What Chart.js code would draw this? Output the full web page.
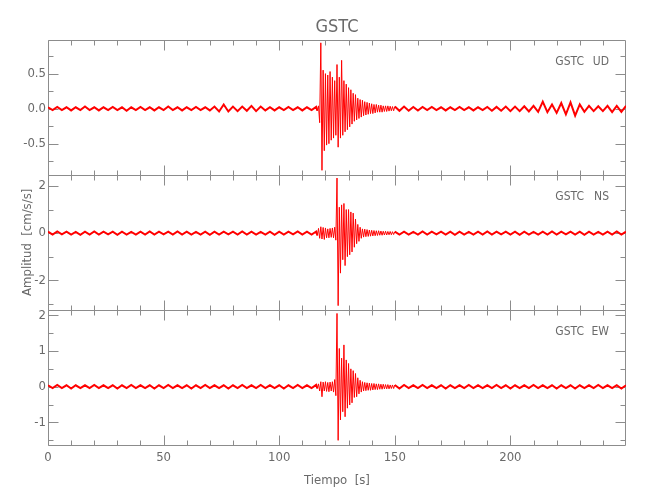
<!DOCTYPE html>
<html>
<head>
<meta charset="utf-8">
<title>GSTC</title>
<script src="https://cdn.jsdelivr.net/npm/chart.js@4.4.1/dist/chart.umd.min.js"></script>
<style>
  body { margin: 0; background: #fff; }
  canvas { display: block; }
</style>
</head>
<body>
<canvas id="myChart" width="650" height="500"></canvas>
<script>
//----- datos -----
const station = 'GSTC';

// tiempo [s]: cada 2 s antes y despues del evento, cada 0.5 s durante el evento
const quietBefore = [0,2,4,6,8,10,12,14,16,18, 20,22,24,26,28,30,32,34,36,38,
  40,42,44,46,48,50,52,54,56,58, 60,62,64,66,68,70,72,74,76,78,
  80,82,84,86,88,90,92,94,96,98, 100,102,104,106,108,110,112,114,116];
const eventTimes = [116.5,117,117.5,118,118.5,119,119.5,120,120.5,121,
  121.5,122,122.5,123,123.5,124,124.5,125,125.5,126,
  126.5,127,127.5,128,128.5,129,129.5,130,130.5,131,
  131.5,132,132.5,133,133.5,134,134.5,135,135.5,136,
  136.5,137,137.5,138,138.5,139,139.5,140,140.5,141,
  141.5,142,142.5,143,143.5,144,144.5,145,145.5,146,
  146.5,147,147.5,148,148.5,149,149.5,150];
const quietAfter = [152,154,156,158,160,162,164,166,168,170,
  172,174,176,178,180,182,184,186,188,190,
  192,194,196,198,200,202,204,206,208,210,
  212,214,216,218,220,222,224,226,228,230,
  232,234,236,238,240,242,244,246,248,250];

// UD [cm/s/s]
const ud = [
  0.02,-0.02,0.025,-0.02,0.02,-0.025,0.02,-0.02,0.03,-0.02,
  0.02,-0.025,0.02,-0.02,0.025,-0.02,0.02,-0.03,0.02,-0.02,
  0.025,-0.02,0.02,-0.025,0.02,-0.02,0.03,-0.02,0.02,-0.025,
  0.02,-0.02,0.025,-0.02,0.02,-0.025,0.03,-0.04,0.06,-0.04,
  0.03,-0.035,0.03,-0.03,0.04,-0.035,0.03,-0.025,0.02,-0.025,
  0.02,-0.02,0.025,-0.02,0.02,-0.025,0.02,-0.02,0.025,
  // evento
  -0.03,0.04,-0.2,0.94,-0.88,0.55,-0.6,0.5,-0.52,0.48,
  -0.5,0.53,-0.45,0.45,-0.42,0.4,-0.38,0.63,-0.55,0.45,
  -0.42,0.69,-0.38,0.4,-0.33,0.35,-0.3,0.3,-0.26,0.27,
  -0.22,0.22,-0.18,0.2,-0.16,0.15,-0.14,0.13,-0.12,0.12,
  -0.1,0.1,-0.09,0.09,-0.08,0.08,-0.07,0.07,-0.07,0.06,
  -0.06,0.06,-0.05,0.05,-0.05,0.05,-0.05,0.04,-0.04,0.04,
  -0.04,0.04,-0.035,0.035,-0.03,0.03,-0.03,0.03,
  // despues
  -0.03,0.03,-0.03,0.025,-0.025,0.025,-0.02,0.025,-0.02,0.02,
  -0.025,0.02,-0.02,0.025,-0.02,0.02,-0.025,0.02,-0.02,0.025,
  -0.03,0.025,-0.03,0.03,-0.035,0.03,-0.035,0.035,-0.04,0.04,
  -0.045,0.1,-0.05,0.06,-0.06,0.08,-0.08,0.09,-0.1,0.06,
  -0.045,0.04,-0.035,0.035,-0.035,0.04,-0.05,0.04,-0.045,0.04
];

// NS [cm/s/s]
const ns = [
  0.06,-0.06,0.07,-0.05,0.06,-0.06,0.05,-0.07,0.06,-0.06,
  0.07,-0.06,0.06,-0.05,0.06,-0.07,0.06,-0.06,0.05,-0.06,
  0.06,-0.06,0.07,-0.06,0.06,-0.05,0.06,-0.06,0.07,-0.06,
  0.06,-0.06,0.05,-0.06,0.06,-0.07,0.06,-0.06,0.06,-0.05,
  0.06,-0.06,0.07,-0.06,0.06,-0.06,0.05,-0.06,0.06,-0.07,
  0.06,-0.06,0.06,-0.05,0.07,-0.06,0.06,-0.06,0.07,
  // evento
  -0.1,0.2,-0.22,0.27,-0.25,0.24,-0.27,0.22,-0.2,0.18,
  -0.2,0.2,-0.18,0.22,-0.2,0.25,-0.3,2.34,-3.08,1.1,
  -1.7,1.2,-1.13,1.26,-1.38,1.0,-1.0,1.0,-0.92,0.9,
  -0.8,0.85,-0.6,0.6,-0.45,0.37,-0.35,0.25,-0.22,0.18,
  -0.17,0.17,-0.15,0.15,-0.14,0.13,-0.13,0.12,-0.12,0.11,
  -0.11,0.1,-0.1,0.1,-0.09,0.09,-0.09,0.08,-0.08,0.08,
  -0.08,0.07,-0.07,0.07,-0.07,0.06,-0.06,0.06,
  // despues
  -0.06,0.06,-0.06,0.05,-0.06,0.07,-0.06,0.06,-0.05,0.06,
  -0.06,0.06,-0.07,0.06,-0.06,0.05,-0.06,0.06,-0.06,0.07,
  -0.06,0.06,-0.05,0.06,-0.06,0.06,-0.07,0.06,-0.06,0.05,
  -0.06,0.06,-0.06,0.07,-0.06,0.06,-0.05,0.06,-0.06,0.06,
  -0.07,0.06,-0.06,0.05,-0.06,0.06,-0.06,0.07,-0.06,0.06
];

// EW [cm/s/s]
const ew = [
  0.04,-0.04,0.05,-0.04,0.04,-0.05,0.04,-0.04,0.04,-0.04,
  0.05,-0.04,0.04,-0.04,0.04,-0.05,0.04,-0.04,0.05,-0.04,
  0.04,-0.04,0.04,-0.05,0.04,-0.04,0.05,-0.04,0.04,-0.04,
  0.04,-0.05,0.04,-0.04,0.05,-0.04,0.04,-0.04,0.04,-0.05,
  0.04,-0.04,0.05,-0.04,0.04,-0.04,0.05,-0.04,0.04,-0.04,
  0.04,-0.05,0.04,-0.04,0.05,-0.04,0.04,-0.04,0.05,
  // evento
  -0.05,0.08,-0.12,0.14,-0.28,0.13,-0.12,0.14,-0.13,0.12,
  -0.14,0.13,-0.12,0.14,-0.15,0.2,-0.25,2.05,-1.5,1.07,
  -0.93,0.8,-0.7,1.17,-0.84,0.75,-0.6,0.65,-0.51,0.5,
  -0.45,0.45,-0.3,0.37,-0.28,0.25,-0.2,0.18,-0.15,0.14,
  -0.12,0.12,-0.11,0.11,-0.1,0.1,-0.1,0.09,-0.09,0.09,
  -0.08,0.08,-0.08,0.08,-0.07,0.07,-0.07,0.07,-0.06,0.06,
  -0.06,0.06,-0.06,0.05,-0.05,0.05,-0.05,0.05,
  // despues
  -0.05,0.05,-0.04,0.04,-0.04,0.05,-0.04,0.04,-0.04,0.04,
  -0.05,0.04,-0.04,0.04,-0.04,0.05,-0.04,0.04,-0.04,0.04,
  -0.04,0.05,-0.04,0.04,-0.05,0.04,-0.04,0.04,-0.04,0.05,
  -0.04,0.04,-0.04,0.04,-0.05,0.04,-0.04,0.04,-0.05,0.04,
  -0.04,0.04,-0.04,0.05,-0.04,0.04,-0.04,0.04,-0.05,0.04
];

// ejes
const udRange = [-0.943, 0.986];
const nsRange = [-3.26, 2.48];
const ewRange = [-1.63, 2.15];
const udTicks = [-0.5, 0, 0.5];
const udMinor = [-0.75, -0.25, 0.25, 0.75];
const nsTicks = [-2, 0, 2];
const nsMinor = [-3, -1, 1];
const ewTicks = [-1, 0, 1, 2];
const ewMinor = [-1.5, -0.5, 0.5, 1.5];
const xTicks = [0, 50, 100, 150, 200];
const xMinor = [10,20,30,40,60,70,80,90,110,120,130,140,160,170,180,190,210,220,230,240];

//----- estilo -----
const fontFamily = "'Liberation Sans Narrow', 'DejaVu Sans Condensed', 'Liberation Sans', sans-serif";
const textColor = '#6a6a6a';
const axisColor = '#8c8c8c';
const traceColor = '#ff0000';
const tickFont = { family: fontFamily, size: 13 };

const times = quietBefore.concat(eventTimes, quietAfter);
const toPoints = vals => times.map((t, i) => ({ x: t, y: vals[i] }));
const eventStart = eventTimes[0];
const eventEnd = eventTimes[eventTimes.length - 1];

const panels = [
    { axis: 'yUD', comp: 'UD', major: udTicks, minor: udMinor },
    { axis: 'yNS', comp: 'NS', major: nsTicks, minor: nsMinor },
    { axis: 'yEW', comp: 'EW', major: ewTicks, minor: ewMinor },
];

function yScale(range, ticks, weight, decimals, title) {
    return {
        type: 'linear',
        position: 'left',
        stack: 'panels',
        stackWeight: 1,
        weight: weight,
        min: range[0],
        max: range[1],
        grid: { display: false, drawTicks: false },
        border: { display: false },
        afterBuildTicks: s => { s.ticks = ticks.map(v => ({ value: v })); },
        afterFit: s => { s.width = 48; },
        ticks: {
            padding: 2,
            color: textColor,
            font: tickFont,
            callback: v => Number(v).toFixed(decimals),
        },
        title: {
            display: !!title,
            text: title || '',
            color: textColor,
            font: tickFont,
            padding: { top: 20, bottom: 0 },
        },
    };
}

// marco de cada panel, ticks hacia adentro y etiqueta de la componente
const panelFrames = {
    id: 'panelFrames',
    beforeDatasetsDraw(chart) {
        const { ctx, chartArea } = chart;
        const xs = chart.scales.x;
        const L = Math.round(chartArea.left) + 0.5;
        const R = Math.round(chartArea.right) - 0.5;
        ctx.save();
        ctx.strokeStyle = axisColor;
        ctx.lineWidth = 1;
        ctx.beginPath();
        panels.forEach(p => {
            const ys = chart.scales[p.axis];
            const T = Math.round(ys.top) + 0.5;
            const B = Math.round(ys.bottom) + 0.5;
            ctx.rect(L, T, R - L, B - T);
            p.major.concat(p.minor).forEach(v => {
                const len = p.major.includes(v) ? 10 : 5;
                const y = Math.round(ys.getPixelForValue(v)) + 0.5;
                ctx.moveTo(L, y); ctx.lineTo(L + len, y);
                ctx.moveTo(R, y); ctx.lineTo(R - len, y);
            });
            xTicks.concat(xMinor).forEach(v => {
                const len = xTicks.includes(v) ? 10 : 5;
                const x = Math.round(xs.getPixelForValue(v)) + 0.5;
                ctx.moveTo(x, T); ctx.lineTo(x, T + len);
                ctx.moveTo(x, B); ctx.lineTo(x, B - len);
            });
        });
        ctx.stroke();
        ctx.restore();
    },
    afterDatasetsDraw(chart) {
        const { ctx, chartArea } = chart;
        ctx.save();
        ctx.fillStyle = textColor;
        ctx.font = '12px ' + fontFamily;
        ctx.textAlign = 'right';
        ctx.textBaseline = 'middle';
        panels.forEach(p => {
            const ys = chart.scales[p.axis];
            const y = ys.top + 22;
            ctx.fillText(p.comp, chartArea.right - 17, y);
            ctx.fillText(station, chartArea.right - 42, y);
        });
        ctx.restore();
    },
};

const ctx = document.getElementById('myChart').getContext('2d');
const lineStyle = {
    borderColor: traceColor,
    backgroundColor: traceColor,
    borderWidth: 1,
    pointRadius: 0,
    tension: 0,
    fill: false,
    // el ruido de fondo se ve como una banda densa
    segment: {
        borderWidth: c => (c.p0.parsed.x < eventStart || c.p0.parsed.x >= eventEnd) ? 2 : 1,
    },
};

const seisChart = new Chart(ctx, {
    type: 'line',
    data: {
        datasets: [
            { label: 'UD', data: toPoints(ud), yAxisID: 'yUD', ...lineStyle },
            { label: 'NS', data: toPoints(ns), yAxisID: 'yNS', ...lineStyle },
            { label: 'EW', data: toPoints(ew), yAxisID: 'yEW', ...lineStyle },
        ],
    },
    options: {
        responsive: false,
        animation: false,
        layout: { padding: { left: 0, right: 24, top: 0, bottom: 0 } },
        plugins: {
            legend: { display: false },
            tooltip: { enabled: false },
            title: {
                display: true,
                text: station,
                fullSize: false,
                color: textColor,
                font: { family: fontFamily, size: 18, weight: 'normal' },
                padding: { top: 17, bottom: 1 },
            },
        },
        scales: {
            x: {
                type: 'linear',
                min: 0,
                max: 250,
                grid: { display: false, drawTicks: false },
                border: { display: false },
                afterBuildTicks: s => { s.ticks = xTicks.map(v => ({ value: v })); },
                afterFit: s => { s.height = 55; },
                ticks: { padding: 5, color: textColor, font: tickFont, maxRotation: 0, autoSkip: false },
                title: {
                    display: true,
                    text: 'Tiempo  [s]',
                    color: textColor,
                    font: tickFont,
                    padding: { top: 0, bottom: 12 },
                },
            },
            yEW: yScale(ewRange, ewTicks, 1, 0),
            yNS: yScale(nsRange, nsTicks, 2, 0, 'Amplitud  [cm/s/s]'),
            yUD: yScale(udRange, udTicks, 3, 1),
        },
    },
    plugins: [panelFrames],
});
</script>
</body>
</html>
